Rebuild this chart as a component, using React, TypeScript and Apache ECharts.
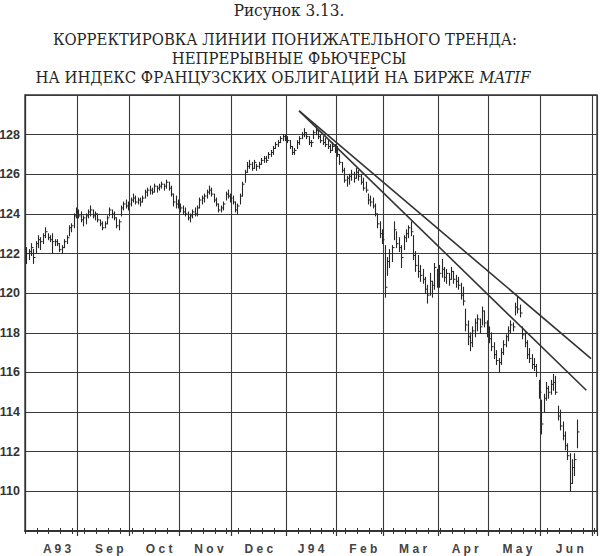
import { useEffect, useRef } from "react";
import * as echarts from "echarts";

// ---- Text ----
const figureLabel = "Рисунок 3.13.";
const titleLines = [
  "КОРРЕКТИРОВКА ЛИНИИ ПОНИЖАТЕЛЬНОГО ТРЕНДА:",
  "НЕПРЕРЫВНЫЕ ФЬЮЧЕРСЫ",
  "НА ИНДЕКС ФРАНЦУЗСКИХ ОБЛИГАЦИЙ НА БИРЖЕ {i|MATIF}",
];
const monthLabels = ["A93", "Sep", "Oct", "Nov", "Dec", "J94", "Feb", "Mar", "Apr", "May", "Jun"];
// trading-day index at which each month label is centred
const monthLabelDays = [13, 35, 56, 77, 98, 120, 142, 163, 185, 207, 229];
const yMin = 108;
const yMax = 130;
const yStep = 2;

// ---- Daily bars: [high, low, close] ----
const aug93 = [
  [122.3, 121.5, 122.0], [122.2, 121.7, 122.1], [122.5, 121.9, 122.3], [122.2, 121.5, 121.8],
  [122.6, 122.0, 122.5], [122.9, 122.3, 122.7], [122.8, 122.2, 122.6], [123.0, 122.5, 122.9],
  [123.3, 122.8, 123.1], [123.0, 122.7, 122.8], [122.9, 122.6, 122.7], [123.0, 122.0, 122.6],
  [122.7, 122.4, 122.6], [122.7, 122.4, 122.5], [122.5, 122.1, 122.2], [122.4, 122.0, 122.3],
  [122.7, 122.3, 122.6], [122.9, 122.5, 122.8], [123.4, 122.9, 123.3], [123.5, 123.1, 123.4],
  [124.0, 123.3, 123.9], [124.3, 123.8, 124.1],
];
const sep93 = [
  [124.2, 123.8, 123.9], [124.1, 123.6, 123.7], [123.9, 123.4, 123.8], [124.0, 123.5, 123.9],
  [124.2, 123.8, 124.1], [124.4, 123.9, 124.2], [124.2, 123.8, 123.9], [124.1, 123.7, 124.0],
  [124.0, 123.6, 123.7], [123.7, 123.4, 123.5], [123.6, 123.2, 123.3], [123.6, 123.3, 123.5],
  [123.9, 123.5, 123.8], [124.3, 123.9, 124.2], [124.2, 123.8, 124.0], [124.1, 123.7, 123.8],
  [123.8, 123.3, 123.4], [123.7, 123.2, 123.6], [124.4, 123.9, 124.3], [124.6, 124.2, 124.5],
  [124.7, 124.3, 124.4], [124.6, 124.2, 124.5],
];
const oct93 = [
  [124.8, 124.4, 124.7], [125.0, 124.6, 124.8], [124.9, 124.5, 124.6], [124.8, 124.5, 124.7],
  [124.8, 124.4, 124.6], [124.9, 124.6, 124.8], [125.2, 124.8, 125.1], [125.3, 124.9, 125.2],
  [125.4, 125.0, 125.2], [125.3, 125.0, 125.1], [125.5, 125.1, 125.4], [125.4, 125.1, 125.3],
  [125.5, 125.2, 125.4], [125.6, 125.3, 125.5], [125.5, 125.2, 125.4], [125.7, 125.3, 125.6],
  [125.6, 125.2, 125.3], [125.4, 124.9, 125.0], [125.0, 124.4, 124.6], [124.9, 124.3, 124.5],
  [124.7, 124.3, 124.4],
];
const nov93 = [
  [124.5, 124.1, 124.3], [124.4, 124.0, 124.1], [124.3, 123.9, 124.0], [124.1, 123.7, 123.8],
  [124.0, 123.6, 123.9], [124.2, 123.8, 124.1], [124.3, 123.9, 124.0], [124.4, 123.9, 124.3],
  [124.8, 124.3, 124.7], [124.9, 124.5, 124.8], [125.0, 124.6, 124.9], [125.2, 124.8, 125.1],
  [125.4, 125.0, 125.2], [125.3, 124.9, 125.0], [125.0, 124.6, 124.7], [124.8, 124.4, 124.5],
  [124.5, 124.1, 124.2], [124.4, 124.1, 124.3], [124.6, 124.2, 124.5], [125.1, 124.7, 125.0],
  [125.2, 124.8, 124.9], [125.0, 124.6, 124.8],
];
const dec93 = [
  [124.9, 124.5, 124.6], [124.6, 124.1, 124.2], [124.5, 124.0, 124.4], [125.0, 124.5, 124.9],
  [125.6, 124.9, 125.5], [126.2, 125.6, 126.1], [126.6, 126.1, 126.4], [126.7, 126.3, 126.5],
  [126.6, 126.2, 126.3], [126.7, 126.3, 126.6], [126.5, 126.2, 126.4], [126.6, 126.3, 126.5],
  [126.8, 126.5, 126.7], [126.9, 126.6, 126.8], [126.9, 126.6, 126.7], [127.1, 126.8, 127.0],
  [127.2, 126.9, 127.1], [127.4, 127.0, 127.3], [127.6, 127.3, 127.5], [127.7, 127.4, 127.6],
  [127.9, 127.6, 127.8], [128.0, 127.7, 127.9], [128.0, 127.7, 127.8],
];
const jan94 = [
  [127.9, 127.6, 127.7], [127.7, 127.3, 127.4], [127.4, 127.0, 127.1], [127.3, 127.0, 127.2],
  [127.7, 127.3, 127.6], [127.9, 127.5, 127.8], [128.1, 127.8, 128.0], [128.3, 127.9, 128.1],
  [128.1, 127.8, 127.9], [127.9, 127.5, 127.6], [127.7, 127.4, 127.6], [128.2, 127.8, 128.1],
  [128.4, 128.0, 128.2], [128.2, 127.8, 127.9], [128.0, 127.6, 127.7], [127.9, 127.5, 127.6],
  [127.8, 127.4, 127.5], [127.7, 127.3, 127.4], [127.5, 127.1, 127.2], [127.6, 127.2, 127.4],
  [127.5, 127.1, 127.2],
];
const feb94 = [
  [127.4, 126.9, 127.0], [127.0, 126.5, 126.6], [126.6, 126.1, 126.2], [126.3, 125.6, 125.7],
  [125.9, 125.4, 125.8], [126.0, 125.5, 125.9], [126.2, 125.7, 126.0], [126.1, 125.6, 125.8],
  [126.3, 125.8, 126.1], [126.2, 125.7, 125.9], [126.0, 125.5, 125.6], [125.8, 125.2, 125.3],
  [125.6, 125.1, 125.2], [125.0, 124.5, 124.7], [124.9, 124.4, 124.6], [124.8, 124.3, 124.4],
  [124.5, 123.9, 124.0], [124.0, 123.3, 123.5], [123.6, 122.8, 123.0], [123.2, 122.5, 122.7],
];
const mar94 = [
  [122.4, 119.8, 120.3], [121.8, 120.9, 121.6], [122.2, 121.3, 122.0], [122.4, 121.6, 122.3],
  [123.6, 122.7, 123.2], [123.1, 122.3, 122.5], [122.8, 122.1, 122.3], [122.4, 121.3, 121.8],
  [122.9, 122.2, 122.8], [123.2, 122.6, 123.0], [123.4, 122.8, 123.3], [123.6, 122.9, 123.1],
  [122.9, 121.7, 121.9], [122.1, 121.1, 121.4], [121.9, 120.8, 121.1], [121.4, 120.6, 120.9],
  [121.2, 120.5, 120.7], [120.8, 120.0, 120.2], [120.4, 119.5, 119.9], [121.0, 119.9, 120.6],
  [120.6, 119.8, 120.4], [121.5, 120.2, 121.3], [121.2, 120.3, 120.9],
];
const apr94 = [
  [121.4, 120.3, 121.0], [121.7, 120.8, 121.2], [121.3, 120.6, 120.8], [121.2, 120.5, 121.0],
  [121.0, 120.4, 120.7], [121.3, 120.7, 121.1], [121.1, 120.5, 120.7], [120.9, 120.3, 120.6],
  [120.8, 120.2, 120.4], [120.5, 119.7, 119.9], [120.3, 119.4, 119.6], [119.2, 118.1, 118.4],
  [118.6, 117.4, 117.8], [118.0, 117.1, 117.5], [118.3, 117.3, 118.1], [118.7, 117.8, 118.5],
  [118.9, 118.1, 118.7], [118.7, 118.0, 118.3], [119.3, 118.4, 119.1], [119.1, 118.3, 118.5],
  [118.6, 117.8, 118.0],
];
const may94 = [
  [118.3, 117.5, 117.7], [118.0, 117.1, 117.3], [117.5, 116.7, 116.9], [117.1, 116.4, 116.6],
  [116.7, 116.0, 116.5], [117.2, 116.4, 117.0], [117.6, 116.9, 117.4], [117.9, 117.3, 117.8],
  [118.3, 117.6, 118.1], [118.6, 118.0, 118.4], [118.5, 118.1, 118.3], [119.5, 118.9, 119.3],
  [119.8, 119.0, 119.2], [119.4, 118.8, 119.0], [118.3, 117.7, 117.9], [118.0, 117.3, 117.5],
  [117.6, 116.7, 116.9], [117.2, 116.5, 116.7], [116.9, 116.2, 116.4], [116.7, 116.1, 116.3],
  [116.4, 115.8, 116.0], [115.6, 114.7, 115.0],
];
const jun94 = [
  [114.6, 112.9, 113.4], [114.9, 114.0, 114.7], [115.5, 114.6, 115.2], [115.3, 114.7, 115.0],
  [115.6, 114.9, 115.4], [115.9, 115.1, 115.5], [115.8, 114.9, 115.0], [114.3, 113.6, 113.8],
  [114.1, 113.1, 113.3], [113.5, 112.6, 112.8], [113.0, 112.1, 112.3], [112.4, 111.6, 111.8],
  [111.9, 110.0, 110.4], [111.6, 110.4, 111.2], [111.9, 110.8, 111.6], [113.6, 112.2, 113.0],
];

// ---- Trend lines: [trading-day index, price] ----
const upperTrend = [[115, 129.2], [238, 116.7]];
const lowerTrend = [[115, 129.2], [236, 115.1]];

const TOTAL_DAYS = 241; // Aug 2 1993 .. Jul 4 1994 (weekdays)

function buildTradingDays(n: number): Date[] {
  const out: Date[] = [];
  const d = new Date(1993, 7, 2);
  while (out.length < n) {
    const wd = d.getDay();
    if (wd !== 0 && wd !== 6) out.push(new Date(d.getTime()));
    d.setDate(d.getDate() + 1);
  }
  return out;
}

const titleFont = "'DejaVu Serif Condensed', 'Liberation Serif', serif";

export default function App() {
  const ref = useRef<HTMLDivElement>(null);

  useEffect(() => {
    if (!ref.current) return;
    const chart = echarts.init(ref.current, undefined, { renderer: "svg" });

    const days = buildTradingDays(TOTAL_DAYS);
    const categories = days.map(
      (d) => `${d.getFullYear()}-${d.getMonth() + 1}-${d.getDate()}`
    );
    const isMonthStart = (i: number) => i > 0 && days[i].getMonth() !== days[i - 1].getMonth();
    const isMonday = (i: number) => days[i].getDay() === 1;

    const bars = [...aug93, ...sep93, ...oct93, ...nov93, ...dec93, ...jan94, ...feb94, ...mar94, ...apr94, ...may94, ...jun94];
    const barData = bars.map((b, i) => [i, b[0], b[1], b[2]]);

    const ink = "#262626";
    const gridColor = "#3a3a3a";

    const baseX = {
      type: "category" as const,
      data: categories,
      boundaryGap: true,
      position: "bottom" as const,
      gridIndex: 0,
    };

    const titleX = [285, 289, 283];

    const option: any = {
      animation: false,
      backgroundColor: "#ffffff",
      grid: {
        left: 25,
        right: 3,
        top: 95,
        bottom: 25,
        containLabel: false,
        outerBoundsMode: "none",
        show: true,
        borderColor: "#333",
        borderWidth: 1.3,
      },
      xAxis: [
        {
          ...baseX,
          axisLine: { show: true, lineStyle: { color: "#333", width: 1.8 } },
          axisTick: {
            show: true,
            interval: (i: number) => isMonthStart(i),
            length: 5,
            lineStyle: { color: "#333", width: 1.2 },
          },
          axisLabel: {
            show: true,
            interval: (i: number) => monthLabelDays.includes(i),
            formatter: (_v: string, i: number) => {
              const k = monthLabelDays.indexOf(i);
              return k >= 0 ? monthLabels[k].split("").join(" ") : "";
            },
            margin: 12,
            fontFamily: "'Liberation Sans', Arial, sans-serif",
            fontWeight: "bold",
            fontSize: 12,
            color: "#444",
          },
          splitLine: {
            show: true,
            interval: (i: number) => isMonthStart(i),
            lineStyle: { color: gridColor, width: 1.1 },
          },
        },
        {
          ...baseX,
          axisLine: { show: false },
          axisTick: {
            show: true,
            interval: (i: number) => isMonday(i),
            length: 3,
            lineStyle: { color: "#333", width: 1 },
          },
          axisLabel: { show: false },
          splitLine: { show: false },
        },
        {
          ...baseX,
          axisLine: { show: false },
          axisTick: {
            show: true,
            inside: true,
            interval: (i: number) => isMonday(i) || isMonthStart(i),
            length: 3,
            lineStyle: { color: "#333", width: 1 },
          },
          axisLabel: { show: false },
          splitLine: { show: false },
        },
      ],
      yAxis: {
        type: "value",
        min: yMin,
        max: yMax,
        interval: yStep,
        axisLine: { show: true, lineStyle: { color: "#333", width: 1.3 } },
        axisTick: { show: false },
        axisLabel: {
          showMinLabel: false,
          showMaxLabel: false,
          margin: 5,
          fontFamily: "'Liberation Sans', Arial, sans-serif",
          fontWeight: "bold",
          fontSize: 12.5,
          color: "#333",
        },
        splitLine: { show: true, lineStyle: { color: gridColor, width: 1.1 } },
      },
      series: [
        {
          type: "custom",
          xAxisIndex: 0,
          yAxisIndex: 0,
          encode: { x: 0, y: [1, 2, 3] },
          data: barData,
          renderItem: (_p: any, api: any) => {
            const i = api.value(0);
            const hi = api.coord([i, api.value(1)]);
            const lo = api.coord([i, api.value(2)]);
            const cl = api.coord([i, api.value(3)]);
            const x = Math.round(hi[0]) + 0.5;
            return {
              type: "group",
              children: [
                {
                  type: "line",
                  shape: { x1: x, y1: hi[1] - 0.5, x2: x, y2: lo[1] + 0.5 },
                  style: { stroke: ink, lineWidth: 1.1 },
                },
                {
                  type: "line",
                  shape: { x1: x, y1: cl[1], x2: x + 2, y2: cl[1] },
                  style: { stroke: ink, lineWidth: 1 },
                },
              ],
            };
          },
        },
        {
          type: "line",
          data: upperTrend,
          symbol: "none",
          lineStyle: { color: "#333", width: 1.6 },
          silent: true,
        },
        {
          type: "line",
          data: lowerTrend,
          symbol: "none",
          lineStyle: { color: "#333", width: 1.6 },
          silent: true,
        },
      ],
      graphic: [
        {
          type: "text",
          x: 289,
          y: 1,
          style: {
            text: figureLabel,
            textAlign: "center",
            textVerticalAlign: "top",
            font: `17px ${titleFont}`,
            fill: "#262626",
          },
        },
        ...titleLines.map((t, k) => ({
          type: "text",
          x: titleX[k],
          y: 31 + k * 19,
          style: {
            text: t,
            textAlign: "center",
            textVerticalAlign: "top",
            font: `16.5px ${titleFont}`,
            fill: "#262626",
            rich: {
              i: {
                font: `italic 16.5px ${titleFont}`,
                fill: "#262626",
              },
            },
          },
        })),
      ],
    };

    chart.setOption(option);
    return () => chart.dispose();
  }, []);

  return (
    <div
      ref={ref}
      style={{ position: "absolute", left: 0, top: 0, width: 600, height: 556 }}
    />
  );
}
